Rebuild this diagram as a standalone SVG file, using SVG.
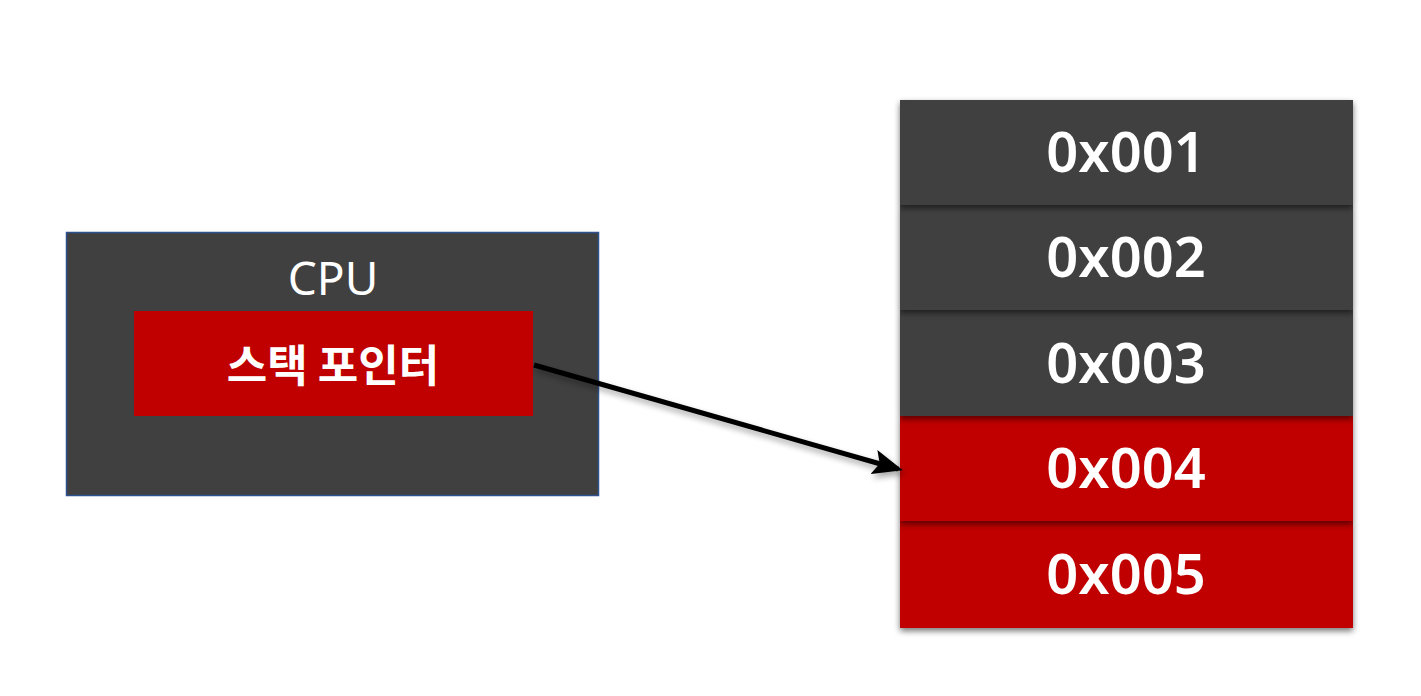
<svg xmlns="http://www.w3.org/2000/svg" width="1421" height="696" viewBox="0 0 1421 696">
  <defs>
    <filter id="sh" x="-10%" y="-20%" width="120%" height="150%">
      <feGaussianBlur in="SourceAlpha" stdDeviation="3"/>
      <feOffset dx="0" dy="3" result="b"/>
      <feComponentTransfer><feFuncA type="linear" slope="0.55"/></feComponentTransfer>
      <feMerge><feMergeNode/><feMergeNode in="SourceGraphic"/></feMerge>
    </filter>
    <filter id="ash" x="-10%" y="-50%" width="120%" height="200%">
      <feGaussianBlur in="SourceAlpha" stdDeviation="3"/>
      <feOffset dx="2" dy="4" result="b"/>
      <feComponentTransfer><feFuncA type="linear" slope="0.35"/></feComponentTransfer>
      <feMerge><feMergeNode/><feMergeNode in="SourceGraphic"/></feMerge>
    </filter>
    <marker id="ah" markerWidth="6" markerHeight="5" refX="5" refY="2.5" orient="auto" markerUnits="strokeWidth">
      <path d="M0,0 L6,2.5 L0,5 L1.2,2.5 Z" fill="#000"/>
    </marker>
    <style>
      .dark { fill: #404040; }
      .red { fill: #C00000; }
      .mem { font-family: "Noto Sans", "Open Sans", sans-serif; font-size: 56px; font-weight: 600; fill: #fff; text-anchor: middle; }
      .cpu { font-family: "Noto Sans", "Open Sans", sans-serif; font-size: 46px; fill: #fff; text-anchor: middle; }
      .kr { font-family: "Noto Sans CJK KR", sans-serif; font-size: 44px; font-weight: 700; fill: #fff; text-anchor: middle; }
    </style>
  </defs>
  <rect width="1421" height="696" fill="#fff"/>

  <g id="cpu">
    <rect x="66.5" y="232.5" width="532" height="263" class="dark" stroke="#2F528F" stroke-width="1.5"/>
    <text x="333" y="295" class="cpu">CPU</text>
  </g>
  <g id="stack-pointer">
    <rect x="134" y="311" width="399" height="105" class="red"/>
    <text x="333" y="382" class="kr">스택 포인터</text>
  </g>

  <g id="memory">
    <g id="mem5" filter="url(#sh)">
      <rect x="900" y="521" width="453" height="107" class="red"/>
      <text x="1126" y="594" class="mem">0x005</text>
    </g>
    <g id="mem4" filter="url(#sh)">
      <rect x="900" y="416" width="453" height="105" class="red"/>
      <text x="1126" y="488" class="mem">0x004</text>
    </g>
    <g id="mem3" filter="url(#sh)">
      <rect x="900" y="310" width="453" height="106" class="dark"/>
      <text x="1126" y="383" class="mem">0x003</text>
    </g>
    <g id="mem2" filter="url(#sh)">
      <rect x="900" y="205" width="453" height="105" class="dark"/>
      <text x="1126" y="277" class="mem">0x002</text>
    </g>
    <g id="mem1" filter="url(#sh)">
      <rect x="900" y="100" width="453" height="105" class="dark"/>
      <text x="1126" y="172" class="mem">0x001</text>
    </g>
  </g>

  <g id="connectors" filter="url(#ash)">
    <line x1="534" y1="365" x2="898" y2="469" stroke="#000" stroke-width="5" marker-end="url(#ah)"/>
  </g>
</svg>
